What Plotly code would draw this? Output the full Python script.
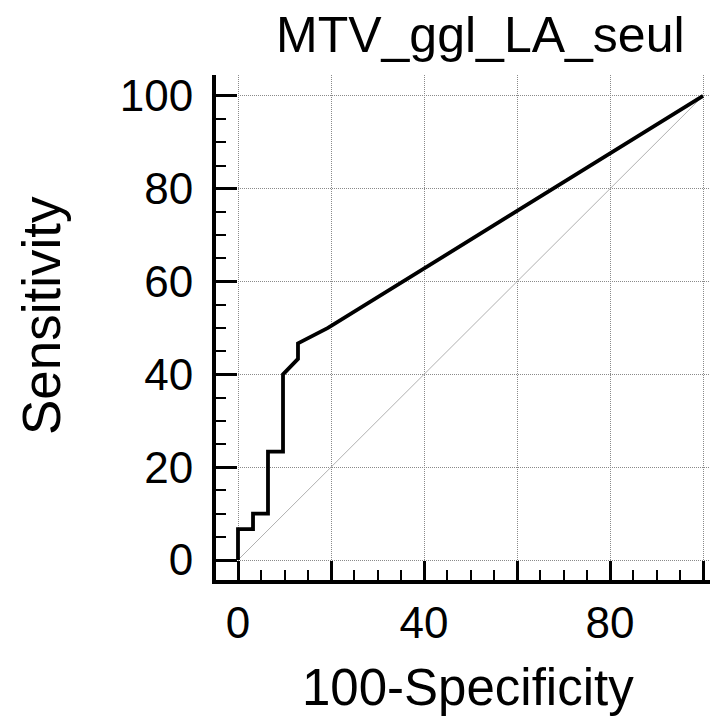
import plotly.graph_objects as go

title_text = "MTV_ggl_LA_seul"
x_title = "100-Specificity"
y_title = "Sensitivity"

fpr = [0, 0, 3.23, 3.23, 6.45, 6.45, 9.68, 9.68, 12.9, 12.9, 19.35, 100]
tpr = [0, 6.67, 6.67, 10, 10, 23.33, 23.33, 40, 43.33, 46.67, 50, 100]

ref_x = [0, 100]
ref_y = [0, 100]

major_ticks = [0, 20, 40, 60, 80, 100]
x_tick_text = ["0", "", "40", "", "80", ""]
y_tick_text = ["0", "20", "40", "60", "80", "100"]

FONT = "Liberation Sans, Arial, sans-serif"

# page body has an 8px default margin
OFF = 8
W, H = 718 - OFF, 726 - OFF
# plot area in page pixels
L, R, T, B = 216, 717, 75, 580
Lf, Rf, Tf, Bf = L - OFF, R - OFF, T - OFF, B - OFF

def px2paper_x(px):
    return (px - L) / (R - L)

def px2paper_y(py):
    return (B - py) / (B - T)

fig = go.Figure()
fig.add_trace(go.Scatter(x=ref_x, y=ref_y, mode="lines",
                         line=dict(color="#b0b0b0", width=1), hoverinfo="skip"))
fig.add_trace(go.Scatter(x=fpr, y=tpr, mode="lines",
                         line=dict(color="black", width=3.8)))

axis_common = dict(
    showline=True, linecolor="black", linewidth=4, mirror=False,
    ticks="inside", tickwidth=3, tickcolor="black",
    tickvals=major_ticks,
    showgrid=True, gridcolor="#8a8a8a", gridwidth=1, griddash="1px,1px",
    zeroline=False,
    tickfont=dict(family=FONT, size=44, color="black"),
    minor=dict(ticks="inside", ticklen=10, tickwidth=2, tickcolor="black",
               dtick=5, tick0=0, showgrid=False),
    fixedrange=True,
)

fig.update_xaxes(range=[-4.73, 103.0], ticktext=x_tick_text, ticklen=19,
                 ticklabelstandoff=1, **axis_common)
fig.update_yaxes(range=[-4.31, 104.5], ticktext=y_tick_text, ticklen=21,
                 ticklabelstandoff=10, **axis_common)

annotations = [
    dict(text=title_text, x=px2paper_x(480), y=px2paper_y(35), xref="paper", yref="paper",
         xanchor="center", yanchor="middle", showarrow=False, borderpad=0,
         font=dict(family=FONT, size=50, color="black")),
    dict(text=x_title, x=px2paper_x(468), y=px2paper_y(687), xref="paper", yref="paper",
         xanchor="center", yanchor="middle", showarrow=False,
         font=dict(family=FONT, size=51, color="black")),
    dict(text=y_title, x=px2paper_x(41), y=px2paper_y(316), xref="paper", yref="paper",
         xanchor="center", yanchor="middle", showarrow=False, textangle=-90,
         font=dict(family=FONT, size=53, color="black")),
]

fig.update_layout(
    width=W, height=H,
    margin=dict(l=Lf, r=W - Rf, t=Tf, b=H - Bf, pad=0),
    plot_bgcolor="white", paper_bgcolor="white",
    showlegend=False,
    annotations=annotations,
)

fig.write_html("out.html")
